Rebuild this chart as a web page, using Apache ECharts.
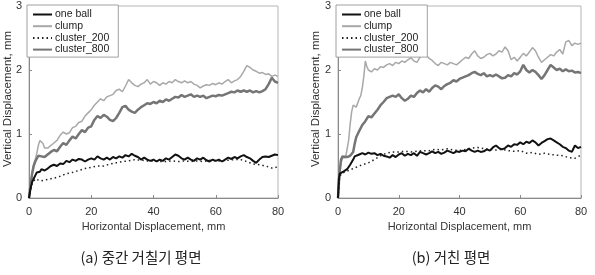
<!DOCTYPE html>
<html>
<head>
<meta charset="utf-8" />
<script src="https://cdn.jsdelivr.net/npm/echarts@6/dist/echarts.min.js"></script>
<style>
  html, body { margin: 0; padding: 0; background: #fff; }
  #chartDom { width: 595px; height: 275px; }
</style>
</head>
<body>
<div id="chartDom"></div>
<script type="text/javascript">
// ---- data, [horizontal mm, vertical mm] ----
var seriesNames = ['one ball', 'clump', 'cluster_200', 'cluster_800'];
var xTicks = [0, 20, 40, 60, 80];
var yTicks = [0, 1, 2, 3];
var captions = ['(a) 중간 거칠기 평면', '(b) 거친 평면'];

// (a) medium roughness
var aOneBall = [[0,0],[0.5,0.15],[1,0.25],[1.5,0.3],[2,0.35],[2.5,0.4],[3,0.42],[3.5,0.41],[4,0.45],[5,0.43],[6,0.46],[7,0.5],[8,0.52],[9,0.5],[10,0.54],[11,0.53],[12,0.58],[13,0.56],[14,0.6],[15,0.58],[16,0.61],[17,0.6],[18,0.57],[19,0.6],[20,0.62],[21,0.6],[22,0.65],[23,0.62],[24,0.6],[25,0.63],[26,0.6],[27,0.64],[28,0.62],[29,0.65],[30,0.63],[31,0.67],[32,0.65],[33,0.69],[34,0.66],[35,0.64],[36,0.6],[37,0.63],[38,0.6],[39,0.58],[40,0.6],[41,0.57],[42,0.6],[43,0.58],[44,0.62],[45,0.6],[46,0.64],[47,0.68],[48,0.66],[49,0.62],[50,0.6],[51,0.63],[52,0.6],[53,0.58],[54,0.62],[55,0.6],[56,0.63],[57,0.59],[58,0.57],[59,0.6],[60,0.58],[61,0.6],[62,0.57],[63,0.6],[64,0.63],[65,0.61],[66,0.64],[67,0.62],[68,0.65],[69,0.67],[70,0.64],[71,0.62],[72,0.58],[73,0.55],[74,0.6],[75,0.64],[76,0.65],[77,0.64],[78,0.66],[79,0.68],[80,0.67]];
var aClump = [[0,0],[0.5,0.2],[1,0.4],[1.5,0.52],[2,0.6],[2.5,0.7],[3,0.82],[3.5,0.9],[4,0.93],[4.5,0.85],[5,0.78],[5.5,0.75],[6,0.78],[7,0.82],[8,0.86],[9,0.9],[10,0.98],[11,1.03],[12,1.0],[13,1.02],[14,1.1],[15,1.12],[16,1.18],[17,1.2],[18,1.28],[19,1.33],[20,1.38],[21,1.45],[22,1.5],[23,1.55],[24,1.52],[25,1.58],[26,1.6],[27,1.62],[28,1.68],[29,1.7],[30,1.66],[31,1.75],[32,1.85],[33,1.8],[34,1.76],[35,1.74],[36,1.78],[37,1.8],[38,1.85],[39,1.78],[40,1.82],[41,1.8],[42,1.76],[43,1.8],[44,1.78],[45,1.82],[46,1.8],[47,1.85],[48,1.82],[49,1.8],[50,1.83],[51,1.8],[52,1.82],[53,1.78],[54,1.76],[55,1.72],[56,1.75],[57,1.77],[58,1.76],[59,1.79],[60,1.77],[61,1.8],[62,1.78],[63,1.82],[64,1.85],[65,1.8],[66,1.83],[67,1.85],[68,1.9],[69,1.98],[70,2.07],[71,2.04],[72,2.0],[73,1.98],[74,1.95],[75,1.96],[76,1.93],[77,1.94],[78,1.9],[79,1.92],[80,1.9]];
var aCl200 = [[0,0],[1,0.22],[2,0.3],[3,0.28],[4,0.27],[5,0.28],[6,0.29],[7,0.3],[8,0.31],[10,0.34],[12,0.38],[14,0.4],[16,0.43],[18,0.46],[20,0.48],[22,0.5],[24,0.5],[26,0.53],[28,0.55],[30,0.57],[32,0.58],[34,0.6],[36,0.59],[38,0.58],[40,0.58],[42,0.57],[44,0.57],[46,0.58],[48,0.57],[50,0.58],[52,0.57],[54,0.58],[56,0.57],[58,0.59],[60,0.58],[62,0.58],[64,0.59],[66,0.6],[68,0.6],[70,0.57],[72,0.53],[74,0.52],[76,0.5],[78,0.47],[79,0.47],[80,0.5]];
var aCl800 = [[0,0],[0.5,0.2],[1,0.38],[1.5,0.5],[2,0.57],[2.5,0.6],[3,0.66],[3.5,0.68],[4,0.65],[5,0.64],[6,0.68],[7,0.72],[8,0.75],[9,0.73],[10,0.8],[11,0.86],[12,0.83],[13,0.9],[14,0.96],[15,0.93],[16,1.0],[17,1.06],[18,1.03],[19,1.1],[20,1.12],[21,1.22],[22,1.28],[23,1.25],[24,1.3],[25,1.27],[26,1.22],[27,1.2],[28,1.25],[29,1.33],[30,1.42],[31,1.44],[32,1.38],[33,1.35],[34,1.33],[35,1.38],[36,1.42],[37,1.45],[38,1.48],[39,1.47],[40,1.5],[41,1.48],[42,1.52],[43,1.5],[44,1.54],[45,1.52],[46,1.55],[47,1.58],[48,1.57],[49,1.61],[50,1.58],[51,1.6],[52,1.62],[53,1.58],[54,1.6],[55,1.58],[56,1.6],[57,1.56],[58,1.58],[59,1.6],[60,1.59],[61,1.61],[62,1.6],[63,1.62],[64,1.64],[65,1.66],[66,1.65],[67,1.68],[68,1.66],[69,1.68],[70,1.66],[71,1.68],[72,1.65],[73,1.67],[74,1.65],[75,1.67],[76,1.7],[77,1.78],[78,1.88],[79,1.82],[80,1.8]];

// (b) rough
var bOneBall = [[0,0],[0.3,0.3],[0.6,0.38],[1,0.4],[2,0.42],[3,0.45],[4,0.52],[5,0.6],[5.5,0.65],[6,0.67],[7,0.68],[8,0.7],[9,0.68],[10,0.71],[11,0.69],[12,0.7],[13,0.67],[14,0.69],[15,0.66],[16,0.65],[17,0.63],[18,0.67],[19,0.64],[20,0.68],[21,0.7],[22,0.66],[23,0.69],[24,0.67],[25,0.7],[26,0.66],[27,0.72],[28,0.7],[29,0.68],[30,0.7],[31,0.73],[32,0.7],[33,0.72],[34,0.69],[35,0.71],[36,0.74],[37,0.72],[38,0.7],[39,0.73],[40,0.72],[41,0.74],[42,0.73],[43,0.77],[44,0.74],[45,0.72],[46,0.74],[47,0.72],[48,0.73],[49,0.76],[50,0.74],[51,0.79],[52,0.82],[53,0.78],[54,0.76],[55,0.78],[56,0.82],[57,0.8],[58,0.84],[59,0.83],[60,0.87],[61,0.84],[62,0.88],[63,0.86],[64,0.9],[65,0.87],[66,0.82],[67,0.86],[68,0.89],[69,0.92],[70,0.93],[71,0.9],[72,0.87],[73,0.84],[74,0.8],[75,0.78],[76,0.74],[77,0.72],[78,0.82],[79,0.78],[80,0.8]];
var bClump = [[0,0],[0.5,0.35],[1,0.55],[1.5,0.63],[2,0.64],[2.5,0.63],[3,0.66],[3.5,0.9],[4,1.15],[4.5,1.35],[5,1.45],[5.5,1.48],[6,1.42],[6.5,1.45],[7,1.55],[7.5,1.6],[8,1.72],[8.5,1.9],[9,2.14],[9.5,2.05],[10,2.0],[11,1.97],[12,2.02],[13,2.0],[14,2.05],[15,2.04],[16,2.08],[17,2.1],[18,2.07],[19,2.12],[20,2.1],[21,2.14],[22,2.12],[23,2.16],[24,2.19],[25,2.14],[26,2.12],[27,2.2],[28,2.26],[29,2.24],[30,2.18],[31,2.15],[32,2.1],[33,2.07],[34,2.12],[35,2.1],[36,2.08],[37,2.12],[38,2.1],[39,2.08],[40,2.12],[41,2.16],[42,2.2],[43,2.18],[44,2.25],[45,2.3],[46,2.22],[47,2.18],[48,2.2],[49,2.24],[50,2.26],[51,2.22],[52,2.25],[53,2.3],[54,2.28],[55,2.36],[56,2.3],[57,2.16],[58,2.2],[59,2.14],[60,2.2],[61,2.26],[62,2.22],[63,2.28],[64,2.35],[65,2.3],[66,2.2],[67,2.12],[68,2.16],[69,2.2],[70,2.24],[71,2.22],[72,2.28],[73,2.32],[74,2.25],[75,2.44],[76,2.46],[77,2.38],[78,2.42],[79,2.4],[80,2.42]];
var bCl200 = [[0,0],[0.5,0.3],[1,0.38],[2,0.4],[4,0.44],[6,0.48],[8,0.52],[10,0.55],[12,0.6],[14,0.66],[16,0.7],[18,0.72],[20,0.72],[22,0.73],[24,0.72],[26,0.73],[28,0.74],[30,0.74],[32,0.76],[34,0.75],[36,0.77],[38,0.75],[40,0.74],[42,0.76],[44,0.78],[46,0.79],[48,0.77],[50,0.76],[52,0.75],[54,0.76],[56,0.74],[58,0.73],[60,0.74],[62,0.7],[64,0.71],[66,0.68],[68,0.7],[70,0.68],[72,0.67],[74,0.66],[76,0.63],[78,0.62],[80,0.67]];
var bCl800 = [[0,0],[0.5,0.4],[1,0.6],[1.5,0.65],[2,0.63],[3,0.64],[4,0.66],[5,0.72],[5.5,0.85],[6,0.95],[7,1.05],[8,1.14],[9,1.2],[10,1.28],[11,1.26],[12,1.32],[13,1.38],[14,1.45],[15,1.5],[16,1.56],[17,1.58],[18,1.6],[19,1.58],[20,1.62],[21,1.56],[22,1.52],[23,1.55],[24,1.6],[25,1.58],[26,1.64],[27,1.68],[28,1.65],[29,1.7],[30,1.66],[31,1.72],[32,1.76],[33,1.74],[34,1.7],[35,1.75],[36,1.78],[37,1.8],[38,1.84],[39,1.82],[40,1.86],[41,1.88],[42,1.9],[43,1.92],[44,1.95],[45,1.97],[46,1.94],[47,1.92],[48,1.95],[49,1.9],[50,1.92],[51,1.9],[52,1.93],[53,1.9],[54,1.87],[55,1.88],[56,1.92],[57,1.9],[58,1.95],[59,1.93],[60,1.98],[61,2.08],[62,2.0],[63,1.96],[64,2.0],[65,1.97],[66,1.92],[67,1.86],[68,1.92],[69,2.0],[70,2.08],[71,2.04],[72,2.0],[73,2.02],[74,1.98],[75,2.01],[76,1.98],[77,1.99],[78,1.96],[79,1.97],[80,1.95]];

var panelData = [[aOneBall, aClump, aCl200, aCl800], [bOneBall, bClump, bCl200, bCl800]];

// ---- styling ----
var FONT = '"Liberation Sans", Arial, sans-serif';
var lineStyles = [
    { color: '#111', width: 2, type: 'solid' },
    { color: '#a8a8a8', width: 1.5, type: 'solid' },
    { color: '#222', width: 1.5, type: [1.5, 3] },
    { color: '#757575', width: 2.5, type: 'solid' }
];
var grids = [
    { left: 29, right: 317, top: 6, bottom: 77 },
    { left: 338, right: 14, top: 6, bottom: 77 }
];

var myChart = echarts.init(document.getElementById('chartDom'), null, { renderer: 'canvas' });

var option = {
    animation: false,
    backgroundColor: '#fff',
    textStyle: { fontFamily: FONT },
    grid: grids.map(function (g) {
        return Object.assign({ show: true, borderColor: '#b5b5b5', borderWidth: 1, backgroundColor: 'transparent' }, g);
    }),
    xAxis: grids.map(function (g, i) {
        return {
            type: 'value', gridIndex: i, min: xTicks[0], max: xTicks[xTicks.length - 1], interval: 20,
            name: 'Horizontal Displacement, mm', nameLocation: 'middle', nameGap: 23,
            nameTextStyle: { fontSize: 11, color: '#333', fontFamily: FONT },
            axisLine: { show: true, lineStyle: { color: '#8a8a8a', width: 1 } },
            axisTick: { show: true, inside: true, length: 3, lineStyle: { color: '#8a8a8a' } },
            axisLabel: { fontSize: 11, color: '#333', margin: 8, fontFamily: FONT },
            splitLine: { show: false }
        };
    }),
    yAxis: grids.map(function (g, i) {
        return {
            type: 'value', gridIndex: i, min: yTicks[0], max: yTicks[yTicks.length - 1], interval: 1,
            axisLine: { show: true, lineStyle: { color: '#8a8a8a', width: 1 } },
            axisTick: { show: true, inside: true, length: 3, lineStyle: { color: '#8a8a8a' } },
            axisLabel: { fontSize: 11, color: '#333', margin: 7, fontFamily: FONT },
            splitLine: { show: false }
        };
    }),
    legend: grids.map(function (g, i) {
        return {
            orient: 'vertical', left: g.left - 2, top: 5,
            data: seriesNames,
            itemWidth: 19, itemHeight: 9, itemGap: 0.7,
            padding: [4, 9, 2, 5],
            borderColor: '#a0a0a0', borderWidth: 1, backgroundColor: '#fff',
            selectedMode: false,
            itemStyle: { color: 'rgba(0,0,0,0)', borderColor: 'rgba(0,0,0,0)', borderWidth: 0 },
            textStyle: { fontSize: 10.5, color: '#222', padding: [0, 0, 0, -2], fontFamily: FONT }
        };
    }),
    series: [],
    graphic: []
};

panelData.forEach(function (sets, p) {
    sets.forEach(function (d, k) {
        option.series.push({
            name: seriesNames[k], type: 'line', xAxisIndex: p, yAxisIndex: p,
            data: d, symbol: 'none', smooth: false,
            lineStyle: lineStyles[k], itemStyle: { color: lineStyles[k].color },
            z: k === 2 ? 5 : (k === 0 ? 6 : 3)
        });
    });
});

// y-axis titles and captions
var yTitleX = [8, 316];
var captionX = [141, 451];
yTitleX.forEach(function (x, i) {
    option.graphic.push({
        type: 'text', x: x, y: 99, rotation: Math.PI / 2,
        style: { text: 'Vertical Displacement, mm', fill: '#333', font: '11.5px ' + FONT, align: 'center', verticalAlign: 'middle' }
    });
    option.graphic.push({
        type: 'text', x: captionX[i], y: 257,
        style: { text: captions[i], fill: '#222', font: '14.5px "Noto Sans CJK KR", "Liberation Sans", sans-serif', align: 'center', verticalAlign: 'middle' }
    });
});

myChart.setOption(option);
window.onresize = myChart.resize;
</script>
</body>
</html>
